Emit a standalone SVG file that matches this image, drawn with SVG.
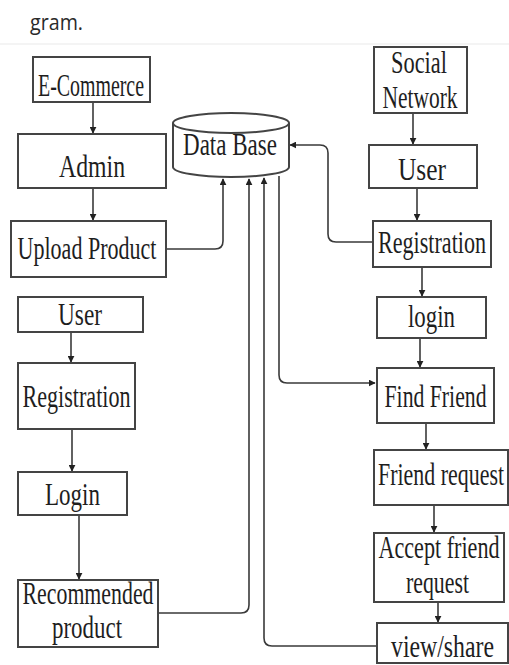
<svg xmlns="http://www.w3.org/2000/svg" width="509" height="665" viewBox="0 0 509 665">
  <defs>
    <marker id="arrow" viewBox="0 0 10 10" refX="9" refY="5" markerWidth="7" markerHeight="7" markerUnits="userSpaceOnUse" orient="auto">
      <path d="M0,0 L10,5 L0,10 Z" fill="#222"/>
    </marker>
    <style>
      .box { fill: #fff; stroke: #444; stroke-width: 2; }
      /* tall, narrow serif labels: 22px type stretched vertically */
      .lbl { font-family: "Liberation Serif", "Times New Roman", serif; font-size: 22px; fill: #1e1e1e; text-anchor: middle; }
      .edge { fill: none; stroke: #3a3a3a; stroke-width: 1.6; }
      .arr { marker-end: url(#arrow); }
    </style>
  </defs>

  <rect x="0" y="0" width="509" height="665" fill="#fff"/>
  <text x="30" y="30" font-family="'Open Sans', 'Noto Sans', sans-serif" font-size="21" fill="#2a2a2a" textLength="53" lengthAdjust="spacingAndGlyphs">gram.</text>
  <line x1="0" y1="44" x2="509" y2="44" stroke="#f0f0f0" stroke-width="1.5"/>

  <!-- connectors -->
  <g id="connectors">
    <path class="edge arr" d="M93,102 V133"/>
    <path class="edge arr" d="M93,188 V220"/>
    <path class="edge arr" d="M166,249 H215 Q223,249 223,241 V179"/>
    <path class="edge arr" d="M71,332 V362"/>
    <path class="edge arr" d="M72,429 V471"/>
    <path class="edge arr" d="M79,515 V579"/>
    <path class="edge arr" d="M158,613 H241 Q249,613 249,605 V179"/>
    <path class="edge arr" d="M377,646 H272 Q264,646 264,638 V178"/>
    <path class="edge arr" d="M279,176 V375 Q279,383 287,383 H375"/>
    <path class="edge arr" d="M373,242 H336 Q328,242 328,234 V153 Q328,145 320,145 H290"/>
    <path class="edge arr" d="M413,113 V144"/>
    <path class="edge arr" d="M417,188 V220"/>
    <path class="edge arr" d="M422,267 V296"/>
    <path class="edge arr" d="M420,338 V367"/>
    <path class="edge arr" d="M426,423 V449"/>
    <path class="edge arr" d="M434,505 V532"/>
    <path class="edge arr" d="M438,602 V622"/>
  </g>

  <!-- database -->
  <g id="database">
    <path class="box" d="M173,123 V167 A58,10 0 0 0 289,167 V123"/>
    <ellipse class="box" cx="231" cy="123" rx="58" ry="10"/>
    <text class="lbl" transform="translate(230,155) scale(1,1.41)" textLength="94" lengthAdjust="spacingAndGlyphs">Data Base</text>
  </g>

  <!-- e-commerce side -->
  <g id="ecommerce">
    <rect class="box" x="33" y="57" width="117" height="45"/>
    <text class="lbl" transform="translate(91,96) scale(1,1.41)" textLength="106" lengthAdjust="spacingAndGlyphs">E-Commerce</text>
  </g>
  <g id="admin">
    <rect class="box" x="18" y="134" width="148" height="54"/>
    <text class="lbl" transform="translate(92,177) scale(1,1.41)" textLength="66" lengthAdjust="spacingAndGlyphs">Admin</text>
  </g>
  <g id="upload-product">
    <rect class="box" x="11" y="221" width="155" height="56"/>
    <text class="lbl" transform="translate(87,259) scale(1,1.41)" textLength="139" lengthAdjust="spacingAndGlyphs">Upload Product</text>
  </g>
  <g id="user-left">
    <rect class="box" x="18" y="297" width="125" height="35"/>
    <text class="lbl" transform="translate(80,325) scale(1,1.41)" textLength="44" lengthAdjust="spacingAndGlyphs">User</text>
  </g>
  <g id="registration-left">
    <rect class="box" x="18" y="363" width="117" height="66"/>
    <text class="lbl" transform="translate(76.5,407) scale(1,1.41)" textLength="108" lengthAdjust="spacingAndGlyphs">Registration</text>
  </g>
  <g id="login-left">
    <rect class="box" x="18" y="472" width="109" height="43"/>
    <text class="lbl" transform="translate(72.5,505) scale(1,1.41)" textLength="55" lengthAdjust="spacingAndGlyphs">Login</text>
  </g>
  <g id="recommended-product">
    <rect class="box" x="18" y="580" width="140" height="67"/>
    <text class="lbl" transform="translate(88,604) scale(1,1.41)" textLength="131" lengthAdjust="spacingAndGlyphs">Recommended</text>
    <text class="lbl" transform="translate(87,638) scale(1,1.41)" textLength="70" lengthAdjust="spacingAndGlyphs">product</text>
  </g>

  <!-- social network side -->
  <g id="social-network">
    <rect class="box" x="374" y="47" width="93" height="66"/>
    <text class="lbl" transform="translate(419,73) scale(1,1.41)" textLength="56" lengthAdjust="spacingAndGlyphs">Social</text>
    <text class="lbl" transform="translate(420,108) scale(1,1.41)" textLength="75" lengthAdjust="spacingAndGlyphs">Network</text>
  </g>
  <g id="user-right">
    <rect class="box" x="369" y="145" width="108" height="43"/>
    <text class="lbl" transform="translate(422,180) scale(1,1.41)" textLength="48" lengthAdjust="spacingAndGlyphs">User</text>
  </g>
  <g id="registration-right">
    <rect class="box" x="373" y="221" width="118" height="46"/>
    <text class="lbl" transform="translate(432,253) scale(1,1.41)" textLength="108" lengthAdjust="spacingAndGlyphs">Registration</text>
  </g>
  <g id="login-right">
    <rect class="box" x="377" y="297" width="109" height="41"/>
    <text class="lbl" transform="translate(431.5,327) scale(1,1.41)" textLength="47" lengthAdjust="spacingAndGlyphs">login</text>
  </g>
  <g id="find-friend">
    <rect class="box" x="377" y="368" width="117" height="55"/>
    <text class="lbl" transform="translate(435.5,407) scale(1,1.41)" textLength="102" lengthAdjust="spacingAndGlyphs">Find Friend</text>
  </g>
  <g id="friend-request">
    <rect class="box" x="374" y="450" width="134" height="55"/>
    <text class="lbl" transform="translate(441,485) scale(1,1.41)" textLength="126" lengthAdjust="spacingAndGlyphs">Friend request</text>
  </g>
  <g id="accept-friend-request">
    <rect class="box" x="374" y="533" width="130" height="69"/>
    <text class="lbl" transform="translate(439,558) scale(1,1.41)" textLength="121" lengthAdjust="spacingAndGlyphs">Accept friend</text>
    <text class="lbl" transform="translate(437.5,593) scale(1,1.41)" textLength="63" lengthAdjust="spacingAndGlyphs">request</text>
  </g>
  <g id="view-share">
    <rect class="box" x="377" y="623" width="131" height="40"/>
    <text class="lbl" transform="translate(442.5,657) scale(1,1.41)" textLength="103" lengthAdjust="spacingAndGlyphs">view/share</text>
  </g>
</svg>
